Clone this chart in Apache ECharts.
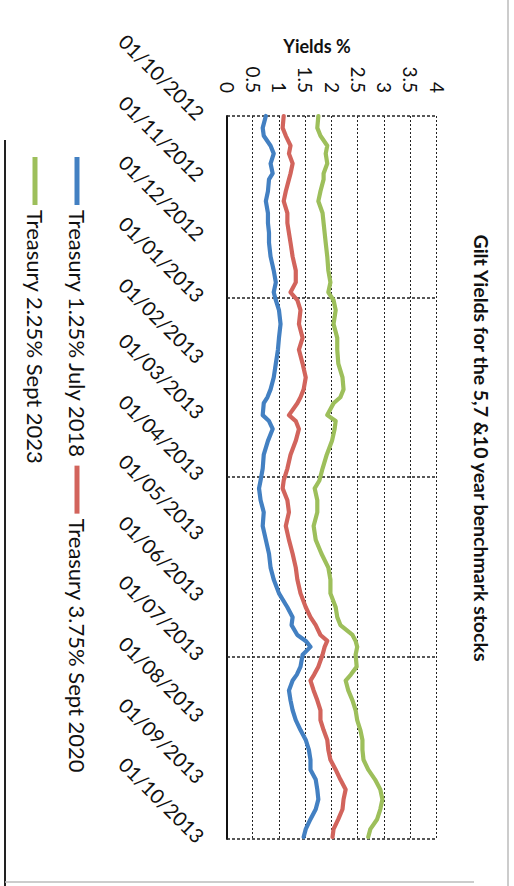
<!DOCTYPE html>
<html>
<head>
<meta charset="utf-8">
<script src="https://cdn.jsdelivr.net/npm/echarts@6/dist/echarts.min.js"></script>
<style>
  html, body { margin: 0; padding: 0; background: #fff; }
  #page { position: absolute; left: 0; top: 0; width: 514px; height: 886px; overflow: hidden; background: #fff; }
  /* the chart is laid out landscape and turned a quarter turn clockwise */
  #chart { position: absolute; left: 0; top: 0; width: 886px; height: 514px;
           transform-origin: 0 0; transform: translate(514px, 0) rotate(90deg); }
</style>
</head>
<body>
<div id="page"><div id="chart"></div></div>
<script>
// Observation dates
const dates = [
  '2012-10-01','2012-10-07','2012-10-11','2012-10-16','2012-10-20','2012-10-25','2012-10-30',
  '2012-11-02','2012-11-08','2012-11-13','2012-11-19','2012-11-24','2012-11-29',
  '2012-12-04','2012-12-11','2012-12-18','2012-12-24','2012-12-29',
  '2013-01-02','2013-01-07','2013-01-14','2013-01-21','2013-01-27',
  '2013-02-03','2013-02-10','2013-02-16','2013-02-20','2013-02-23',
  '2013-03-01','2013-03-04','2013-03-08','2013-03-14','2013-03-21','2013-03-28',
  '2013-04-03','2013-04-07','2013-04-13','2013-04-19','2013-04-26',
  '2013-05-03','2013-05-10','2013-05-17','2013-05-23','2013-05-30',
  '2013-06-06','2013-06-11','2013-06-15','2013-06-20','2013-06-23','2013-06-26','2013-06-30',
  '2013-07-06','2013-07-10','2013-07-13','2013-07-18','2013-07-23','2013-07-28',
  '2013-08-02','2013-08-07','2013-08-12','2013-08-17','2013-08-22','2013-08-27',
  '2013-09-01','2013-09-06','2013-09-11','2013-09-16','2013-09-21','2013-09-26','2013-09-30'
];

// Yields (%) per gilt
const july2018 = [
  0.74,0.68,0.70,0.83,0.89,0.83,0.87,
  0.80,0.78,0.74,0.78,0.78,0.80,
  0.80,0.83,0.89,0.93,0.89,
  0.93,0.99,1.02,0.99,0.97,
  0.93,0.89,0.83,0.77,0.70,
  0.68,0.80,0.87,0.78,0.70,0.68,
  0.64,0.61,0.64,0.70,0.68,
  0.74,0.80,0.83,0.89,0.99,
  1.15,1.25,1.23,1.34,1.50,1.59,1.44,
  1.40,1.33,1.25,1.18,1.21,1.25,
  1.31,1.40,1.50,1.56,1.59,1.59,
  1.69,1.72,1.74,1.69,1.59,1.50,1.46
];
const sept2020 = [
  1.08,1.06,1.12,1.21,1.18,1.25,1.21,
  1.18,1.12,1.08,1.15,1.15,1.18,
  1.21,1.25,1.31,1.31,1.21,
  1.34,1.40,1.37,1.44,1.37,
  1.44,1.50,1.46,1.40,1.34,
  1.18,1.31,1.37,1.31,1.21,1.15,
  1.08,1.06,1.15,1.18,1.12,
  1.18,1.25,1.31,1.34,1.40,
  1.50,1.59,1.69,1.78,1.91,1.86,1.82,
  1.74,1.66,1.59,1.65,1.72,1.78,
  1.78,1.84,1.91,1.93,1.97,2.07,
  2.16,2.26,2.22,2.20,2.12,2.03,2.01
];
const sept2023 = [
  1.74,1.72,1.78,1.91,1.88,1.91,1.84,
  1.84,1.78,1.74,1.82,1.84,1.86,
  1.88,1.91,1.93,1.97,1.93,
  2.03,2.07,2.03,2.10,2.10,
  2.12,2.20,2.22,2.16,2.03,
  1.91,2.07,2.05,2.00,1.90,1.82,
  1.76,1.67,1.72,1.72,1.65,
  1.69,1.80,1.93,1.97,1.97,
  2.07,2.10,2.16,2.39,2.45,2.48,2.45,
  2.47,2.36,2.26,2.31,2.39,2.45,
  2.48,2.54,2.58,2.58,2.60,2.69,
  2.82,2.92,2.96,2.92,2.86,2.73,2.69
];

const seriesNames = ['Treasury 1.25% July 2018', 'Treasury 3.75% Sept 2020', 'Treasury 2.25% Sept 2023'];
const seriesColors = ['#4380c2', '#d2645c', '#9dbf5b'];

// Date axis labels (monthly) and quarterly gridlines
const tickDates = [
  '2012-10-01','2012-11-01','2012-12-01','2013-01-01','2013-02-01','2013-03-01','2013-04-01',
  '2013-05-01','2013-06-01','2013-07-01','2013-08-01','2013-09-01','2013-10-01'
];
const quarterLines = ['2012-10-01','2013-01-01','2013-04-01','2013-07-01','2013-10-01'];

// Yield axis
const yieldMin = 0, yieldMax = 4, yieldStep = 0.5;

const titleText = 'Gilt Yields for the 5,7 &10 year benchmark stocks';
const axisTitle = 'Yields %';

function toTime(s) {
  const p = s.split('-').map(Number);
  return new Date(p[0], p[1] - 1, p[2]).getTime();
}
function pad(n) { return (n < 10 ? '0' : '') + n; }

const FONT = 'Lato, "Open Sans", sans-serif';
const chart = echarts.init(document.getElementById('chart'), null, { renderer: 'svg', width: 886, height: 514 });

const values = [july2018, sept2020, sept2023];
const series = values.map((vals, i) => {
  const s = {
    name: seriesNames[i],
    type: 'line',
    symbol: 'none',
    smooth: false,
    z: 3 + i,
    lineStyle: { color: seriesColors[i], width: 4.2, join: 'round', cap: 'round' },
    itemStyle: { color: seriesColors[i] },
    data: dates.map((d, k) => [toTime(d), vals[k]])
  };
  if (i === 0) {
    s.markLine = {
      silent: true,
      symbol: 'none',
      label: { show: false },
      z: 1,
      lineStyle: { color: '#222', type: [3, 2], width: 1.6 },
      data: quarterLines.map(d => ({ xAxis: toTime(d) }))
    };
  }
  return s;
});

chart.setOption({
  backgroundColor: '#fff',
  animation: false,
  grid: { left: 116, right: 47, top: 77, bottom: 227 },
  xAxis: {
    type: 'value',
    min: toTime(tickDates[0]),
    max: toTime(tickDates[tickDates.length - 1]),
    axisLine: { show: true, onZero: false, lineStyle: { color: '#111', width: 2 } },
    axisTick: { show: false },
    splitLine: { show: false },
    axisLabel: {
      customValues: tickDates.map(toTime),
      rotate: 45,
      margin: 26,
      color: '#111',
      fontFamily: FONT,
      fontSize: 20,
      hideOverlap: false,
      showMinLabel: true,
      showMaxLabel: true,
      formatter: function (v) {
        const d = new Date(v);
        return pad(d.getDate()) + '/' + pad(d.getMonth() + 1) + '/' + d.getFullYear();
      }
    }
  },
  yAxis: {
    type: 'value',
    min: yieldMin,
    max: yieldMax,
    interval: yieldStep,
    axisLine: { show: false },
    axisTick: { show: false },
    splitLine: { show: true, lineStyle: { color: '#222', type: [2, 2], width: 1 } },
    axisLabel: {
      margin: 23,
      color: '#111',
      fontFamily: FONT,
      fontSize: 19
    }
  },
  legend: [
    {
      data: [seriesNames[0], seriesNames[1]],
      left: 152, top: 420,
      orient: 'horizontal',
      icon: 'rect', itemWidth: 48, itemHeight: 5, itemGap: 7,
      textStyle: { color: '#111', fontFamily: FONT, fontSize: 22, lineHeight: 24 }
    },
    {
      data: [seriesNames[2]],
      left: 152, top: 462,
      orient: 'horizontal',
      icon: 'rect', itemWidth: 48, itemHeight: 5, itemGap: 7,
      textStyle: { color: '#111', fontFamily: FONT, fontSize: 22, lineHeight: 24 }
    }
  ],
  graphic: [
    {
      type: 'text', x: 448, y: 33, z: 10,
      style: { text: titleText, fill: '#111', font: 'bold 19.5px ' + FONT, textAlign: 'center', textVerticalAlign: 'middle' }
    },
    {
      type: 'text', x: 46, y: 197, rotation: Math.PI / 2, z: 10,
      style: { text: axisTitle, fill: '#111', font: 'bold 18px ' + FONT, textAlign: 'center', textVerticalAlign: 'middle' }
    },
    // chart-area frame edges
    { type: 'line', shape: { x1: 140, y1: 509, x2: 886, y2: 509 }, style: { stroke: '#222', lineWidth: 2 } },
    { type: 'line', shape: { x1: 0, y1: 6, x2: 886, y2: 6 }, style: { stroke: '#bbb', lineWidth: 1.5 } },
    { type: 'line', shape: { x1: 882, y1: 40, x2: 882, y2: 509 }, style: { stroke: '#bbb', lineWidth: 1.5 } }
  ],
  series: series
});
</script>
</body>
</html>
